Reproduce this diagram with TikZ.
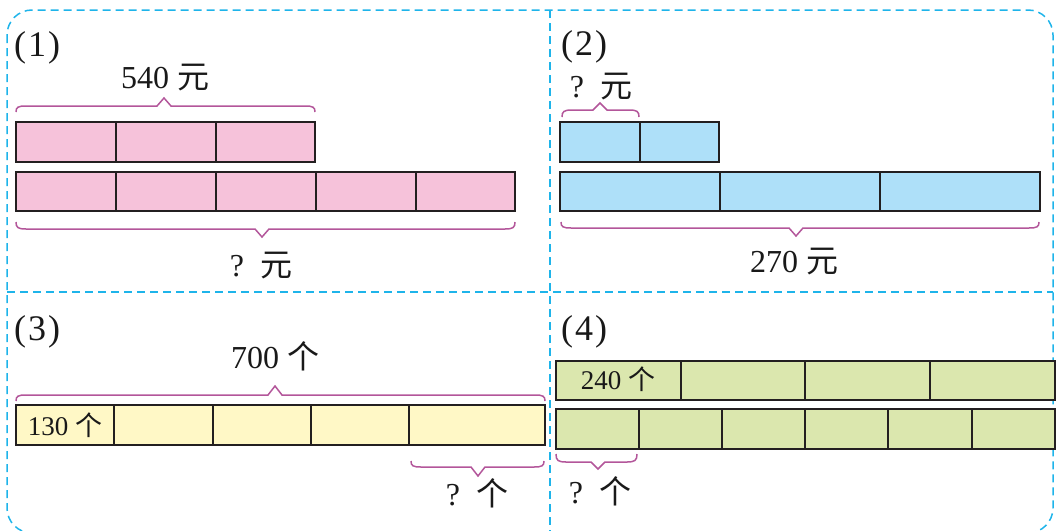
\documentclass[tikz,border=0pt]{standalone}
\usepackage{fontspec}
\setmainfont{Liberation Serif}
\newfontfamily\cjk{Noto Sans CJK SC}
\definecolor{framecyan}{HTML}{1EB4EA}
\definecolor{bracemag}{HTML}{B3569A}
\definecolor{barline}{HTML}{231F20}
\definecolor{fillpink}{HTML}{F6C2DA}
\definecolor{fillblue}{HTML}{AEE0F9}
\definecolor{fillyellow}{HTML}{FFF8C6}
\definecolor{fillgreen}{HTML}{DBE7AE}
\newcommand\mybrace[6]{%
  \draw[bracestyle] (#1,#5) .. controls ({#1},{#4+0.2*(#5-#4)}) and ({#1+2},#4) .. ({#1+10},#4) -- ({#3-7},#4) -- (#3,#6) -- ({#3+7},#4) -- ({#2-10},#4) .. controls ({#2-2},#4) and ({#2},{#4+0.2*(#5-#4)}) .. (#2,#5);}
\begin{document}
\begin{tikzpicture}[x=1pt,y=-1pt,
  framestyle/.style={draw=framecyan,line width=1.5pt,dash pattern=on 8pt off 5pt},
  bracestyle/.style={draw=bracemag,line width=1.5pt},
  barstyle/.style={draw=barline,line width=2pt},
  bigtext/.style={font=\fontsize{32}{32}\selectfont,inner sep=0pt,text=black!90},
  numtext/.style={font=\fontsize{36}{36}\selectfont,inner sep=0pt,text=black!90},
  celltext/.style={font=\fontsize{27}{27}\selectfont,inner sep=0pt,text=black!90}]
\useasboundingbox (0,0) rectangle (1056,530);
% frame
\draw[framestyle,rounded corners=25pt] (7,10) rectangle (1053,533);
\draw[framestyle] (550,10) -- (550,533);
\draw[framestyle] (7,292) -- (1053,292);
% panel 1
\filldraw[barstyle,fill=fillpink] (16,122) rectangle (315,162);
\foreach \x in {116,216} \draw[barstyle] (\x,122) -- (\x,162);
\filldraw[barstyle,fill=fillpink] (16,172) rectangle (515,211);
\foreach \x in {116,216,316,416} \draw[barstyle] (\x,172) -- (\x,211);
\mybrace{16}{315}{164}{106}{112}{98}
\mybrace{16}{515}{262}{229}{222}{237}
\node[numtext,anchor=base west] (l1) at (14,56) {(\kern2pt1\kern2pt)};
\node[bigtext,anchor=base] (t1) at (165,88) {540 {\cjk 元}};
\node[bigtext,anchor=base] (q1) at (261,276) {? \,{\cjk 元}};
% panel 2
\filldraw[barstyle,fill=fillblue] (560,122) rectangle (719,162);
\draw[barstyle] (640,122) -- (640,162);
\filldraw[barstyle,fill=fillblue] (560,172) rectangle (1040,211);
\foreach \x in {720,880} \draw[barstyle] (\x,172) -- (\x,211);
\mybrace{562}{639}{600}{110}{117}{103}
\mybrace{561}{1039}{796}{228}{222}{236}
\node[numtext,anchor=base west] (l2) at (561,55) {(\kern2pt2\kern2pt)};
\node[bigtext,anchor=base] (q2) at (601,97) {? \,{\cjk 元}};
\node[bigtext,anchor=base] (t2) at (794,272) {270 {\cjk 元}};
% panel 3
\filldraw[barstyle,fill=fillyellow] (16,405) rectangle (545,445);
\foreach \x in {114,213,311,409} \draw[barstyle] (\x,405) -- (\x,445);
\mybrace{16}{545}{275}{395}{401}{386}
\mybrace{411}{544}{478}{467}{461}{476}
\node[numtext,anchor=base west] (l3) at (14,340) {(\kern2pt3\kern2pt)};
\node[bigtext,anchor=base] (t3) at (275,368) {700 {\cjk 个}};
\node[celltext,anchor=base] (c3) at (65,435) {130 {\cjk 个}};
\node[bigtext,anchor=base] (q3) at (477,505) {? \,{\cjk 个}};
% panel 4
\filldraw[barstyle,fill=fillgreen] (556,361) rectangle (1055,400);
\foreach \x in {681,805,930} \draw[barstyle] (\x,361) -- (\x,400);
\filldraw[barstyle,fill=fillgreen] (556,409) rectangle (1055,449);
\foreach \x in {639,722,805,888,972} \draw[barstyle] (\x,409) -- (\x,449);
\mybrace{556}{637}{598}{462}{454}{469}
\node[numtext,anchor=base west] (l4) at (561,340) {(\kern2pt4\kern2pt)};
\node[celltext,anchor=base] (c4) at (618,389) {240 {\cjk 个}};
\node[bigtext,anchor=base] (q4) at (600,503) {? \,{\cjk 个}};
\end{tikzpicture}
\end{document}
